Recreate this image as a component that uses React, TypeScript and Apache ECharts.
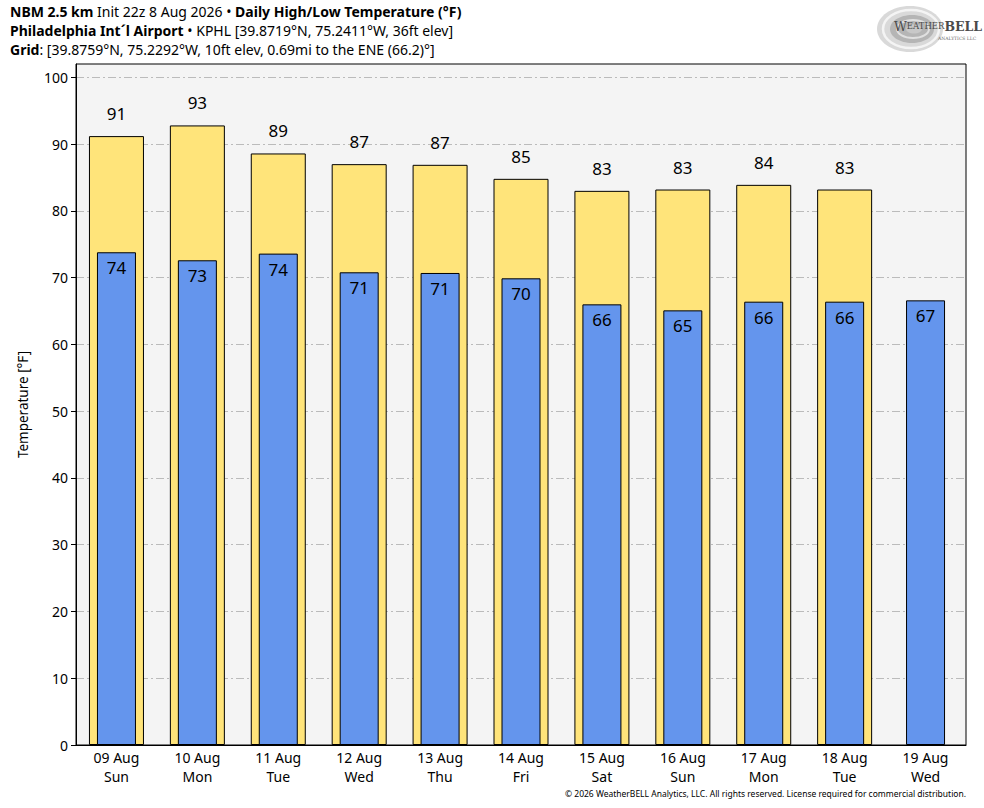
import React, { useEffect, useRef } from "react";
import * as echarts from "echarts";

const dates = ["09 Aug", "10 Aug", "11 Aug", "12 Aug", "13 Aug", "14 Aug", "15 Aug", "16 Aug", "17 Aug", "18 Aug", "19 Aug"];
const days = ["Sun", "Mon", "Tue", "Wed", "Thu", "Fri", "Sat", "Sun", "Mon", "Tue", "Wed"];
const highs: (number | null)[] = [91.2, 92.8, 88.6, 87.0, 86.9, 84.8, 83.0, 83.2, 83.9, 83.2, null];
const lows: number[] = [73.8, 72.6, 73.6, 70.8, 70.7, 69.9, 66.0, 65.1, 66.4, 66.4, 66.6];
const yTicks = [0, 10, 20, 30, 40, 50, 60, 70, 80, 90, 100];

const titleLine1 = "{b|NBM 2.5 km} Init 22z 8 Aug 2026 • {b|Daily High/Low Temperature (°F)}";
const titleLine2 = "{b|Philadelphia Int´l Airport} • KPHL [39.8719°N, 75.2411°W, 36ft elev]";
const titleLine3 = "{b|Grid}: [39.8759°N, 75.2292°W, 10ft elev, 0.69mi to the ENE (66.2)°]";
const copyright = "© 2026 WeatherBELL Analytics, LLC. All rights reserved. License required for commercial distribution.";

const FONT = "'Noto Sans', 'Open Sans', sans-serif";
const SERIF = "'DejaVu Serif', 'Liberation Serif', serif";

export default function App() {
  const ref = useRef<HTMLDivElement>(null);
  useEffect(() => {
    document.body.style.margin = "0";
    if (!ref.current) return;
    const chart = echarts.init(ref.current, undefined, { renderer: "svg" });
    const categories = dates.map((d, i) => d + "\n" + days[i]);
    const titleStyle = (t: string) => ({
      text: t,
      fontFamily: FONT,
      fontSize: 14,
      fill: "#000",
      verticalAlign: "middle",
      rich: { b: { fontWeight: "bold", fontFamily: FONT, fontSize: 14, fill: "#000" } },
    });
    chart.setOption({
      animation: false,
      backgroundColor: "#fff",
      textStyle: { fontFamily: FONT },
      grid: {
        left: 76,
        right: 18,
        top: 64,
        bottom: 63,
        show: true,
        backgroundColor: "#f4f4f4",
        borderColor: "#000",
        borderWidth: 1,
        z: 0,
      },
      xAxis: [
        {
          type: "category",
          data: categories,
          position: "bottom",
          axisLine: { show: true, lineStyle: { color: "#000", width: 1 } },
          axisTick: { show: false },
          axisLabel: { color: "#000", fontSize: 14, lineHeight: 19, margin: 3, fontFamily: FONT },
          splitLine: { show: false },
        },
        {
          type: "category",
          data: categories,
          position: "bottom",
          show: false,
        },
      ],
      yAxis: {
        type: "value",
        min: 0,
        max: 102,
        interval: 10,
        name: "Temperature [°F]",
        nameLocation: "middle",
        nameGap: 46,
        nameTextStyle: { color: "#000", fontSize: 13.5, fontFamily: FONT },
        axisLine: { show: true, lineStyle: { color: "#000", width: 1 } },
        axisTick: { show: true, length: 5, inside: false, lineStyle: { color: "#000" }, customValues: yTicks },
        axisLabel: { color: "#000", fontSize: 14, margin: 8, fontFamily: FONT, customValues: yTicks },
        splitLine: { show: true, lineStyle: { color: "#bbbbbb", width: 1, type: [8, 3, 2, 3] } },
      },
      series: [
        {
          type: "bar",
          name: "High",
          xAxisIndex: 0,
          data: highs.map((v) => (v === null ? "-" : v)),
          barWidth: 55,
          itemStyle: { color: "#FFE47A", borderColor: "#000", borderWidth: 1 },
          label: {
            show: true,
            position: "top",
            distance: 14,
            fontSize: 17,
            color: "#000",
            fontFamily: FONT,
            formatter: (p: any) => String(Math.round(p.value)),
          },
          z: 2,
        },
        {
          type: "bar",
          name: "Low",
          xAxisIndex: 1,
          data: lows,
          barWidth: 39,
          itemStyle: { color: "#6495ED", borderColor: "#000", borderWidth: 1 },
          label: {
            show: true,
            position: "insideTop",
            distance: 7,
            fontSize: 17,
            color: "#000",
            fontFamily: FONT,
            formatter: (p: any) => String(Math.round(p.value)),
          },
          z: 3,
        },
      ],
      graphic: [
        { type: "text", left: 10, top: 4, style: titleStyle(titleLine1) },
        { type: "text", left: 10, top: 23, style: titleStyle(titleLine2) },
        { type: "text", left: 10, top: 42, style: titleStyle(titleLine3) },
        {
          type: "text",
          right: 18,
          top: 789,
          style: { text: copyright, fontSize: 8.5, fill: "#000", fontFamily: FONT },
        },
        {
          type: "group",
          left: 877,
          top: 6,
          children: [
            { type: "ellipse", shape: { cx: 34, cy: 24, rx: 33, ry: 23 }, style: { fill: "#d9d9d9" } },
            { type: "ellipse", shape: { cx: 35, cy: 24, rx: 28, ry: 19 }, style: { fill: "none", stroke: "#f4f4f4", lineWidth: 2.5 } },
            { type: "ellipse", shape: { cx: 36, cy: 24, rx: 22, ry: 14 }, style: { fill: "#b5b5b5" } },
            { type: "ellipse", shape: { cx: 37, cy: 24, rx: 16, ry: 9 }, style: { fill: "none", stroke: "#e0e0e0", lineWidth: 2 } },
            { type: "ellipse", shape: { cx: 38, cy: 24, rx: 8, ry: 4.5 }, style: { fill: "#c8c8c8" } },
            {
              type: "text",
              x: 18,
              y: 21,
              style: {
                text: "{s|W}{t|EATHER}{b|BELL}",
                verticalAlign: "middle",
                rich: {
                  s: { fontFamily: SERIF, fontSize: 12.5, fill: "#4a4a4a" },
                  t: { fontFamily: SERIF, fontSize: 8.5, fill: "#4a4a4a" },
                  b: { fontFamily: SERIF, fontSize: 12.5, fontWeight: "bold", fill: "#4a4a4a" },
                },
              },
            },
            {
              type: "text",
              x: 62,
              y: 33,
              style: { text: "ANALYTICS LLC", fontFamily: SERIF, fontSize: 4.5, fill: "#666", verticalAlign: "middle" },
            },
          ],
        },
      ],
    });
    return () => chart.dispose();
  }, []);
  return <div ref={ref} style={{ position: "fixed", left: 0, top: 0, width: 984, height: 808 }} />;
}
